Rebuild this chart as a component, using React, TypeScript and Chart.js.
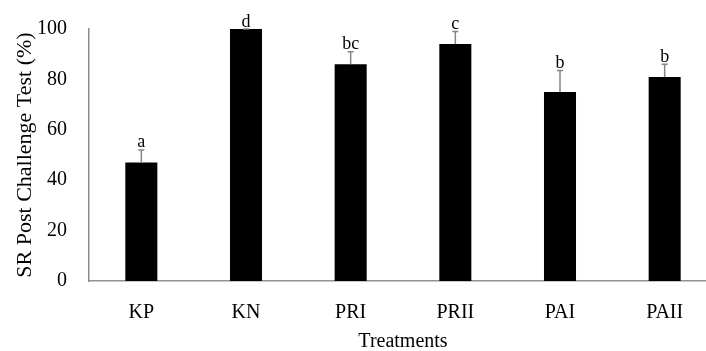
import React, { useEffect, useRef } from "react";
import { Chart, registerables } from "chart.js";

Chart.register(...registerables);

const categories = ["KP", "KN", "PRI", "PRII", "PAI", "PAII"];
const survival = [47, 100, 86, 94, 75, 81];
const errors = [5, 0, 5, 5, 8.5, 5];
const groupLetters = ["a", "d", "bc", "c", "b", "b"];
const yTicks = [0, 20, 40, 60, 80, 100];

const SERIF = "'Liberation Serif', 'Times New Roman', serif";

const errorPlugin = {
  id: "errorLetters",
  afterDatasetsDraw(chart: any) {
    const { ctx, scales } = chart;
    const xs = scales.x;
    const ys = scales.y;
    ctx.save();
    survival.forEach((v, i) => {
      const x = xs.getPixelForValue(i);
      const yTop = ys.getPixelForValue(v + errors[i]);
      const yVal = ys.getPixelForValue(v);
      ctx.strokeStyle = "#858585";
      ctx.lineWidth = 1.5;
      ctx.beginPath();
      ctx.moveTo(x, yVal);
      ctx.lineTo(x, yTop);
      ctx.moveTo(x - 3, yTop);
      ctx.lineTo(x + 3, yTop);
      ctx.stroke();
      ctx.fillStyle = "#000";
      ctx.font = `18px ${SERIF}`;
      ctx.textAlign = "center";
      ctx.textBaseline = "alphabetic";
      ctx.fillText(groupLetters[i], x, yTop - 2.5);
    });
    ctx.restore();
  },
};

export default function App() {
  const ref = useRef<HTMLCanvasElement>(null);
  useEffect(() => {
    if (!ref.current) return;
    const chart = new Chart(ref.current, {
      type: "bar",
      data: {
        labels: categories,
        datasets: [
          {
            data: survival,
            backgroundColor: "#000000",
            borderWidth: 0,
            barPercentage: 0.306,
            categoryPercentage: 1,
          },
        ],
      },
      options: {
        responsive: false,
        animation: false,
        layout: { padding: { top: 29, right: 3, left: 0, bottom: 0 } },
        plugins: { legend: { display: false }, tooltip: { enabled: false } },
        scales: {
          x: {
            grid: { display: false, drawTicks: false },
            border: { display: true, color: "#8a949e", width: 1.5 },
            ticks: {
              color: "#000",
              font: { family: SERIF, size: 20 },
              padding: 20,
              maxRotation: 0,
            },
            title: {
              display: true,
              text: "Treatments",
              color: "#000",
              font: { family: SERIF, size: 20, lineHeight: 0.9 },
              padding: { top: 0, bottom: 0 },
            },
            afterFit(scale: any) {
              scale.height = 70;
            },
          },
          y: {
            min: 0,
            max: 100,
            afterBuildTicks(scale: any) {
              scale.ticks = yTicks.map((v) => ({ value: v }));
            },
            grid: { display: false, drawTicks: false },
            border: { display: true, color: "#8c8c8c", width: 1.5 },
            ticks: {
              color: "#000",
              font: { family: SERIF, size: 20 },
              padding: 22,
            },
            title: {
              display: true,
              text: "SR Post Challenge Test (%)",
              color: "#000",
              font: { family: SERIF, size: 22, lineHeight: 1 },
              padding: { top: 14, bottom: 0 },
            },
            afterFit(scale: any) {
              scale.width = 89;
              scale.paddingTop = 0;
              scale.paddingBottom = 0;
            },
          },
        },
      },
      plugins: [errorPlugin],
    });
    return () => chart.destroy();
  }, []);
  return (
    <div
      style={{
        position: "fixed",
        left: 0,
        top: 0,
        width: 706,
        height: 351,
        overflow: "hidden",
        background: "#fff",
      }}
    >
      <canvas ref={ref} width={720} height={351} style={{ display: "block" }} />
    </div>
  );
}
